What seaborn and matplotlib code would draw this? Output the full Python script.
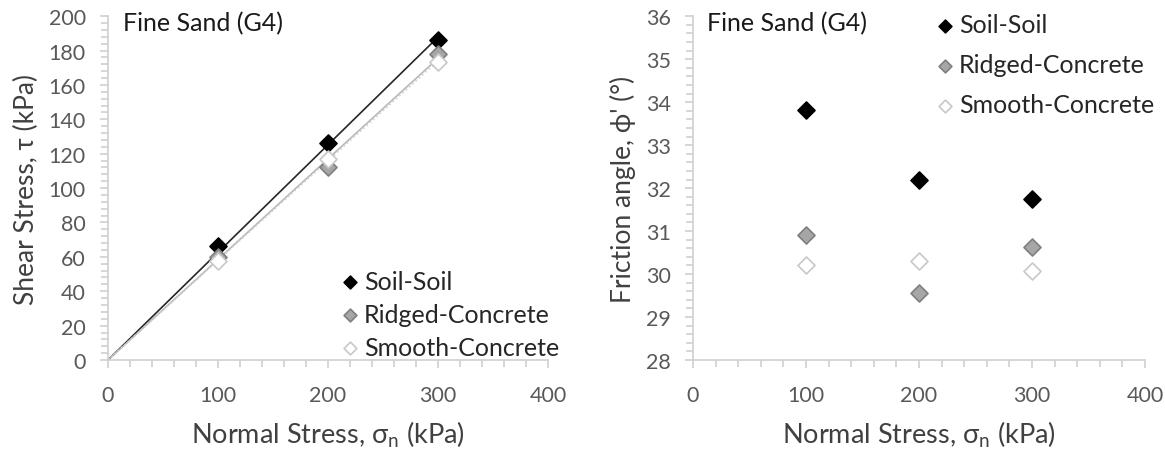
import numpy as np
import pandas as pd
import matplotlib
matplotlib.use("Agg")
import matplotlib.pyplot as plt
from matplotlib.ticker import MultipleLocator
import seaborn as sns

# === Data ===
normal_stress = [100, 200, 300]
series_names = ["Soil-Soil", "Ridged-Concrete", "Smooth-Concrete"]
shear_soil = [66.5, 126, 186]
shear_ridged = [60, 112.5, 178]
shear_smooth = [57.5, 117, 173.5]
phi_soil = [33.82, 32.2, 31.75]
phi_ridged = [30.9, 29.55, 30.62]
phi_smooth = [30.2, 30.3, 30.08]
panel_note = "Fine Sand (G4)"

# === Styles ===
sns.set_theme(style="white")
plt.rcParams['font.family'] = ['Lato', 'DejaVu Sans']
plt.rcParams['mathtext.fontset'] = 'custom'
plt.rcParams['mathtext.rm'] = 'Lato'

fill = {"Soil-Soil": "#000000", "Ridged-Concrete": "#a6a6a6", "Smooth-Concrete": "#ffffff"}
edge = {"Soil-Soil": "#000000", "Ridged-Concrete": "#7f7f7f", "Smooth-Concrete": "#c8c8c8"}
fit_style = {"Soil-Soil": ("#262626", "-"), "Ridged-Concrete": ("#b8b8b8", "-"),
             "Smooth-Concrete": ("#d0d0d0", ":")}

df = pd.DataFrame({
    "sigma": normal_stress * 3,
    "tau": shear_soil + shear_ridged + shear_smooth,
    "phi": phi_soil + phi_ridged + phi_smooth,
    "series": [s for s in series_names for _ in normal_stress],
})

fig = plt.figure(figsize=(11.65, 4.56), dpi=100)
ax1 = fig.add_axes([0.0927, 0.2083, 0.3777, 0.754])
ax2 = fig.add_axes([0.5948, 0.2083, 0.388, 0.754])

# trend lines through origin (left panel)
for name in series_names:
    sub = df[df.series == name]
    slope = (sub.sigma * sub.tau).sum() / (sub.sigma ** 2).sum()
    xs = np.array([0, sub.sigma.max()])
    col, ls = fit_style[name]
    ax1.plot(xs, slope * xs, color=col, ls=ls, lw=1.2, zorder=1)


def draw_points(ax, ycol):
    for name in series_names:
        sub = df[df.series == name]
        sns.scatterplot(data=sub, x="sigma", y=ycol, ax=ax, marker="D", s=75,
                        color=fill[name], edgecolor=edge[name], linewidth=1.2,
                        label=name, zorder=3)


draw_points(ax1, "tau")
draw_points(ax2, "phi")


def style_axes(ax, ylim, ymajor, yminor, ylabel, note_x):
    ax.set_xlim(0, 400)
    ax.set_ylim(*ylim)
    ax.xaxis.set_major_locator(MultipleLocator(100))
    ax.xaxis.set_minor_locator(MultipleLocator(20))
    ax.yaxis.set_major_locator(MultipleLocator(ymajor))
    ax.yaxis.set_minor_locator(MultipleLocator(yminor))
    for side in ["top", "right"]:
        ax.spines[side].set_visible(False)
    for side in ["left", "bottom"]:
        ax.spines[side].set_color("#d0d0d0")
        ax.spines[side].set_linewidth(1.2)
    ax.tick_params(which="both", direction="out", color="#d0d0d0", width=1.2,
                   left=True, bottom=True)
    ax.tick_params(which="major", length=6, labelsize=15.5, labelcolor="#595959")
    ax.tick_params(axis="x", which="major", pad=12)
    ax.tick_params(axis="y", which="major", pad=10)
    ax.tick_params(which="minor", length=5)
    ax.set_xlabel("Normal Stress, σ$_\\mathregular{n}$ (kPa)", fontsize=19.5, color="#404040", labelpad=10)
    ax.set_ylabel(ylabel, fontsize=19, color="#404040", labelpad=7)
    ax.text(note_x, 1.015, panel_note, transform=ax.transAxes, fontsize=18,
            color="#1a1a1a", va="top", ha="left")


style_axes(ax1, (0, 200), 20, 4, "Shear Stress, τ (kPa)", 0.034)
style_axes(ax2, (28, 36), 1, 0.2, "Friction angle, ϕ' (°)", 0.03)

for ax, anchor, spacing in [(ax1, (0.536, 0.262), 0.4), (ax2, (0.544, 1.008), 0.68)]:
    leg = ax.legend(loc="upper left", bbox_to_anchor=anchor, frameon=False, fontsize=18,
                    handletextpad=0.3, borderaxespad=0, borderpad=0,
                    labelspacing=spacing, handlelength=0.5, markerscale=0.75)
    for t in leg.get_texts():
        t.set_color("#262626")

fig.savefig("out.png", dpi=100)
